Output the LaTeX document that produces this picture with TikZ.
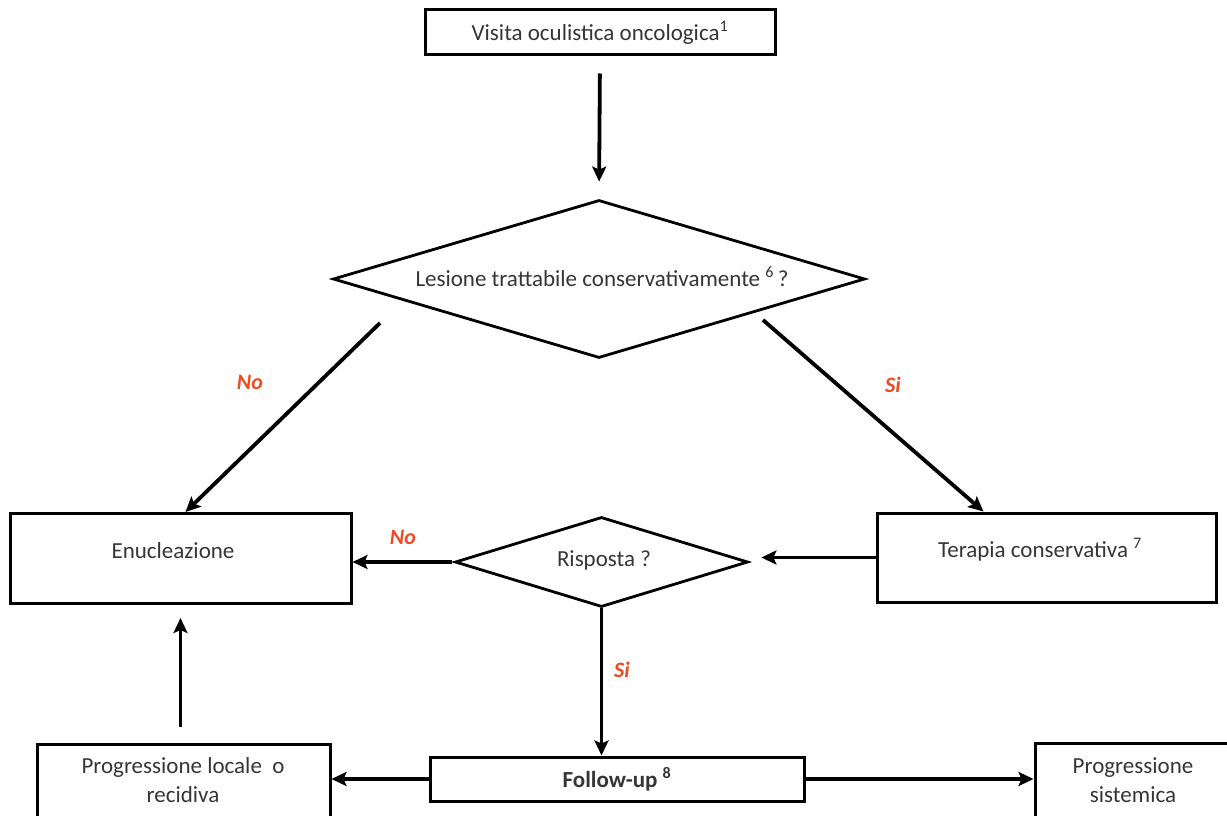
\documentclass[tikz,border=0pt]{standalone}
\usepackage{fontspec}
\setmainfont{Carlito}
\usetikzlibrary{shapes.geometric,arrows.meta,calc}
\definecolor{txtgray}{HTML}{363636}
\definecolor{lblred}{HTML}{EE4B22}
\tikzset{
  box/.style={draw=black, line width=3pt, inner sep=0pt, text=txtgray, font=\fontsize{23}{27}\selectfont},
  dia/.style={draw=black, line width=2.8pt, diamond, inner sep=0pt, text=txtgray, font=\fontsize{23}{27}\selectfont},
  txt/.style={text=txtgray, font=\fontsize{23}{29}\selectfont, align=center, inner sep=0pt},
  arr/.style={line width=3.8pt, -{Stealth[length=15pt,width=14pt,inset=3pt]}},
  lbl/.style={text=lblred, font=\fontsize{22}{24}\selectfont\bfseries\itshape, inner sep=0pt}
}
\begin{document}
\begin{tikzpicture}[x=1pt,y=-1pt]
\useasboundingbox (0,0) rectangle (1227,816);
\clip (0,0) rectangle (1227,816);
\fill[white] (0,0) rectangle (1227,816);

% nodes
\node[box, minimum width=350, minimum height=45] (top) at (600,32.5) {Visita oculistica oncologica\textsuperscript{1}};
\node[dia, minimum width=532, minimum height=158] (d1) at (599,279) {};
\node[txt] (d1t) at (602,277) {Lesione trattabile conservativamente \textsuperscript{6}\,?};
\node[box, minimum width=341, minimum height=90] (enu) at (180.5,558.5) {};
\node[txt] (enut) at (173,551) {Enucleazione};
\node[box, minimum width=339, minimum height=89] (ter) at (1046.5,557.5) {};
\node[txt] (tert) at (1040,550) {Terapia conservativa \textsuperscript{7}};
\node[dia, minimum width=293, minimum height=90] (d2) at (601.5,562) {};
\node[txt] (d2t) at (604,560) {Risposta ?};
\node[box, minimum width=374, minimum height=44, font=\fontsize{23}{27}\selectfont\bfseries] (fu) at (617,779) {Follow-up \textsuperscript{8}};
\node[box, minimum width=293, minimum height=96] (loc) at (183.5,792) {};
\node[txt] (loct) at (183,780) {Progressione locale\ \ o\\recidiva};
\node[box, minimum width=215, minimum height=96] (sis) at (1142.5,791) {};
\node[txt] (sist) at (1133,780) {Progressione\\sistemica};

% connectors
\draw[arr, shorten <=17pt, shorten >=17pt] (top.south) -- (d1.north);
\coordinate (noS) at (380,323);
\coordinate (siS) at (763,320);
\draw[arr] (noS) -- ([xshift=5pt]enu.north);
\draw[arr] (siS) -- ([xshift=-63pt]ter.north);
\draw[arr, shorten >=12pt] (ter.west) -- (ter.west -| d2.east);
\draw[arr, shorten <=2pt] (d2.west) -- (d2.west -| enu.east);
\draw[arr] (d2.south) -- (d2.south |- fu.north);
\draw[arr] (fu.west) -- (fu.west -| loc.east);
\draw[arr] (fu.east) -- (fu.east -| sis.west);
\draw[arr, shorten <=16pt, shorten >=13pt] (loc.north -| enu.south) -- (enu.south);

% labels
\node[lbl] (lno1) at (250,382) {No};
\node[lbl] (lsi1) at (893,385) {Si};
\node[lbl] (lno2) at (403,537) {No};
\node[lbl] (lsi2) at (622,670) {Si};
\end{tikzpicture}
\end{document}
